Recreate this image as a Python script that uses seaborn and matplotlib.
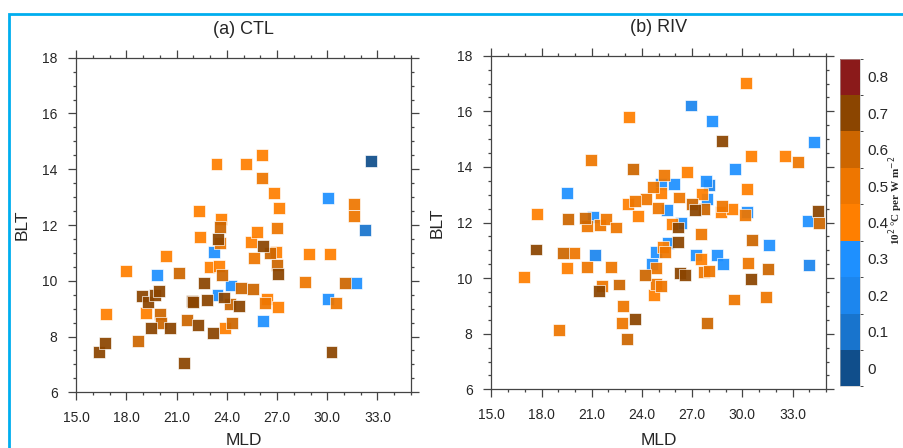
import numpy as np
import pandas as pd
import matplotlib
matplotlib.use("Agg")
import matplotlib.pyplot as plt
import seaborn as sns
from matplotlib.colors import ListedColormap, BoundaryNorm
from matplotlib.cm import ScalarMappable
from matplotlib.patches import Rectangle
from matplotlib.ticker import MultipleLocator, FormatStrFormatter

# ---------------- data ----------------
ctl_mld = [16.35, 16.69, 16.77, 17.99, 18.68, 18.94, 19.14, 19.26, 19.44, 19.70,
           19.84, 19.94, 19.98, 20.08, 20.34, 20.60, 21.11, 21.45, 21.59, 21.89,
           21.99, 22.29, 22.31, 22.37, 22.63, 22.79, 22.96, 23.16, 23.24, 23.38,
           23.44, 23.58, 23.48, 23.58, 23.62, 23.54, 23.72, 23.82, 23.88, 24.16,
           24.24, 24.28, 24.74, 24.84, 25.12, 25.45, 25.57, 25.61, 25.81, 26.09,
           26.07, 26.13, 26.17, 26.37, 26.27, 26.57, 26.83, 26.95, 26.99, 27.01,
           27.03, 27.03, 27.09, 28.66, 28.92, 30.07, 30.07, 30.19, 30.25, 30.51,
           31.07, 31.59, 31.59, 31.71, 32.28, 32.64]
ctl_blt = [7.46, 7.76, 8.81, 10.35, 7.85, 9.45, 8.86, 9.25, 8.30, 9.49,
           10.20, 9.65, 8.80, 8.47, 10.89, 8.32, 10.27, 7.04, 8.59, 9.29,
           9.25, 8.41, 12.49, 11.56, 9.91, 9.31, 10.51, 8.14, 11.02, 14.18,
           9.49, 11.34, 11.50, 11.94, 12.20, 10.53, 10.21, 9.40, 8.29, 9.17,
           9.83, 8.50, 9.10, 9.75, 14.18, 11.38, 9.72, 10.81, 11.74, 14.52,
           13.70, 11.26, 8.57, 9.34, 9.20, 10.98, 13.14, 11.02, 11.88, 10.57,
           10.24, 9.05, 12.60, 9.97, 10.96, 12.96, 9.35, 10.96, 7.46, 9.19,
           9.93, 12.75, 12.32, 9.93, 11.82, 14.28]
ctl_coef = [0.7, 0.7, 0.4, 0.4, 0.6, 0.7, 0.4, 0.7, 0.7, 0.7,
            0.3, 0.7, 0.6, 0.6, 0.4, 0.7, 0.6, 0.7, 0.6, 0.7,
            0.7, 0.7, 0.4, 0.4, 0.7, 0.7, 0.4, 0.7, 0.3, 0.4,
            0.3, 0.5, 0.7, 0.6, 0.4, 0.4, 0.6, 0.7, 0.4, 0.6,
            0.3, 0.6, 0.7, 0.6, 0.4, 0.4, 0.6, 0.5, 0.4, 0.4,
            0.5, 0.7, 0.3, 0.4, 0.5, 0.6, 0.4, 0.4, 0.5, 0.6,
            0.7, 0.4, 0.4, 0.5, 0.4, 0.3, 0.3, 0.4, 0.7, 0.5,
            0.6, 0.5, 0.5, 0.3, 0.1, 0.0]

riv_mld = [30.21, 26.95, 28.18, 28.76, 34.30, 23.24, 30.53, 32.54, 33.30, 20.93,
           23.48, 29.56, 26.69, 25.12, 25.31, 25.89, 24.64, 25.16, 27.80, 27.98,
           27.86, 27.58, 30.25, 26.23, 24.26, 23.58, 23.18, 25.47, 24.96, 26.99,
           27.17, 27.72, 28.78, 28.72, 29.36, 30.25, 30.17, 33.94, 34.53, 34.59,
           17.71, 19.50, 19.56, 21.09, 20.60, 20.69, 21.49, 21.83, 22.43, 23.74,
           26.31, 25.81, 26.13, 25.53, 26.17, 27.51, 30.57, 31.57, 17.65, 19.28,
           19.96, 21.21, 24.84, 25.24, 25.39, 27.23, 27.52, 28.46, 28.84, 30.31,
           31.53, 34.00, 16.97, 19.50, 20.71, 22.17, 24.62, 24.82, 24.16, 26.27,
           26.59, 27.72, 28.02, 30.49, 21.63, 21.43, 22.63, 24.84, 25.12, 24.72,
           29.50, 31.41, 22.87, 22.79, 23.56, 19.02, 23.08, 27.86]
riv_blt = [17.02, 16.21, 15.64, 14.94, 14.91, 15.81, 14.41, 14.38, 14.17, 14.24,
           13.92, 13.91, 13.83, 13.37, 13.72, 13.40, 13.28, 13.06, 13.49, 13.34,
           12.86, 13.01, 13.22, 12.90, 12.83, 12.76, 12.65, 12.45, 12.53, 12.68,
           12.45, 12.48, 12.60, 12.38, 12.47, 12.39, 12.27, 12.06, 12.41, 11.99,
           12.29, 13.06, 12.14, 12.21, 12.17, 11.87, 11.91, 12.11, 11.82, 12.23,
           11.99, 11.94, 11.82, 11.27, 11.30, 11.59, 11.37, 11.18, 11.03, 10.91,
           10.91, 10.82, 10.95, 11.11, 10.93, 10.82, 10.69, 10.82, 10.52, 10.55,
           10.34, 10.47, 10.04, 10.37, 10.39, 10.39, 10.51, 10.36, 10.11, 10.19,
           10.10, 10.21, 10.27, 9.98, 9.73, 9.52, 9.77, 9.79, 9.73, 9.39,
           9.23, 9.33, 9.00, 8.37, 8.53, 8.14, 7.80, 8.37]
riv_coef = [0.4, 0.2, 0.3, 0.7, 0.3, 0.4, 0.4, 0.4, 0.5, 0.5,
            0.6, 0.3, 0.4, 0.3, 0.5, 0.3, 0.5, 0.4, 0.3, 0.2,
            0.3, 0.4, 0.4, 0.5, 0.5, 0.5, 0.4, 0.3, 0.5, 0.6,
            0.7, 0.6, 0.5, 0.4, 0.4, 0.3, 0.5, 0.3, 0.7, 0.6,
            0.4, 0.3, 0.6, 0.3, 0.6, 0.5, 0.5, 0.5, 0.5, 0.4,
            0.3, 0.4, 0.7, 0.3, 0.7, 0.5, 0.6, 0.3, 0.7, 0.6,
            0.5, 0.2, 0.3, 0.4, 0.5, 0.3, 0.4, 0.3, 0.3, 0.5,
            0.6, 0.2, 0.4, 0.4, 0.5, 0.5, 0.3, 0.5, 0.6, 0.7,
            0.7, 0.5, 0.5, 0.7, 0.5, 0.7, 0.6, 0.5, 0.5, 0.4,
            0.5, 0.5, 0.5, 0.5, 0.7, 0.5, 0.6, 0.6]

levels = [0.0, 0.1, 0.2, 0.3, 0.4, 0.5, 0.6, 0.7, 0.8]
level_labels = ["0", "0.1", "0.2", "0.3", "0.4", "0.5", "0.6", "0.7", "0.8"]
level_colors = ["#104E8B", "#1874CD", "#1C86EE", "#1E90FF",
                "#FF7F00", "#EE7600", "#CD6600", "#8B4500", "#8B1A1A"]
titles = ["(a) CTL", "(b) RIV"]

# ---------------- figure ----------------
sns.set_style("ticks")
plt.rcParams["font.family"] = ["Liberation Sans", "DejaVu Sans"]

fig = plt.figure(figsize=(9.04, 4.48), dpi=100)
ax1 = fig.add_axes([0.0844, 0.1243, 0.3702, 0.7469])
ax2 = fig.add_axes([0.5435, 0.1310, 0.3703, 0.7446])
cax = fig.add_axes([0.9292, 0.1373, 0.0221, 0.7320])

palette = {round(v, 1): c for v, c in zip(levels, level_colors)}

datasets = [(ctl_mld, ctl_blt, ctl_coef), (riv_mld, riv_blt, riv_coef)]
xlabel_pads = [5.5, 8]
for ax, (xs, ys, cs), title, lp in zip([ax1, ax2], datasets, titles, xlabel_pads):
    df = pd.DataFrame({"MLD": xs, "BLT": ys, "coef": [round(c, 1) for c in cs]})
    df = df.sort_values("coef", kind="stable")
    sns.scatterplot(data=df, x="MLD", y="BLT", hue="coef", palette=palette,
                    marker="s", s=74, edgecolor="white", linewidth=0.5,
                    alpha=0.93, legend=False, ax=ax, zorder=3)
    ax.set_xlim(15, 35)
    ax.set_ylim(6, 18)
    ax.xaxis.set_major_locator(MultipleLocator(3))
    ax.xaxis.set_minor_locator(MultipleLocator(1))
    ax.yaxis.set_major_locator(MultipleLocator(2))
    ax.yaxis.set_minor_locator(MultipleLocator(0.5))
    ax.xaxis.set_major_formatter(FormatStrFormatter("%.1f"))
    ax.tick_params(which="both", direction="out", top=True, right=True,
                   color="#444444", width=0.9)
    ax.tick_params(which="major", length=5.5, labelsize=10, pad=8)
    ax.tick_params(which="minor", length=2.5)
    for sp in ax.spines.values():
        sp.set_visible(True)
        sp.set_linewidth(0.9)
        sp.set_color("#444444")
    ax.set_xlabel("MLD", fontsize=12.5, labelpad=lp)
    ax.set_ylabel("BLT", fontsize=12.5, labelpad=9)
    ax.set_title(title, fontsize=13, pad=17)

# colorbar
cmap = ListedColormap(level_colors)
bounds = [-0.05 + 0.1 * i for i in range(len(levels) + 1)]
norm = BoundaryNorm(bounds, cmap.N)
sm = ScalarMappable(norm=norm, cmap=cmap)
cb = fig.colorbar(sm, cax=cax, ticks=levels)
cb.ax.set_yticklabels(level_labels)
cb.ax.tick_params(length=0, labelsize=11, pad=5)
cb.outline.set_linewidth(0.4)
cb.outline.set_edgecolor("#bbbbbb")

fig.text(0.991, 0.553, "10$^2$ \u00b0C per W m$^{-2}$", rotation=90,
         ha="center", va="center", fontsize=8, fontweight="bold",
         family=["Liberation Serif", "DejaVu Serif"])

# light blue frame
fig.add_artist(Rectangle((9 / 904, -0.2), 1.2, 1 - 14 / 448 + 0.2,
                         transform=fig.transFigure, fill=False,
                         edgecolor="#00AEEF", linewidth=2.0, clip_on=False))

fig.savefig("out.png", dpi=100)
